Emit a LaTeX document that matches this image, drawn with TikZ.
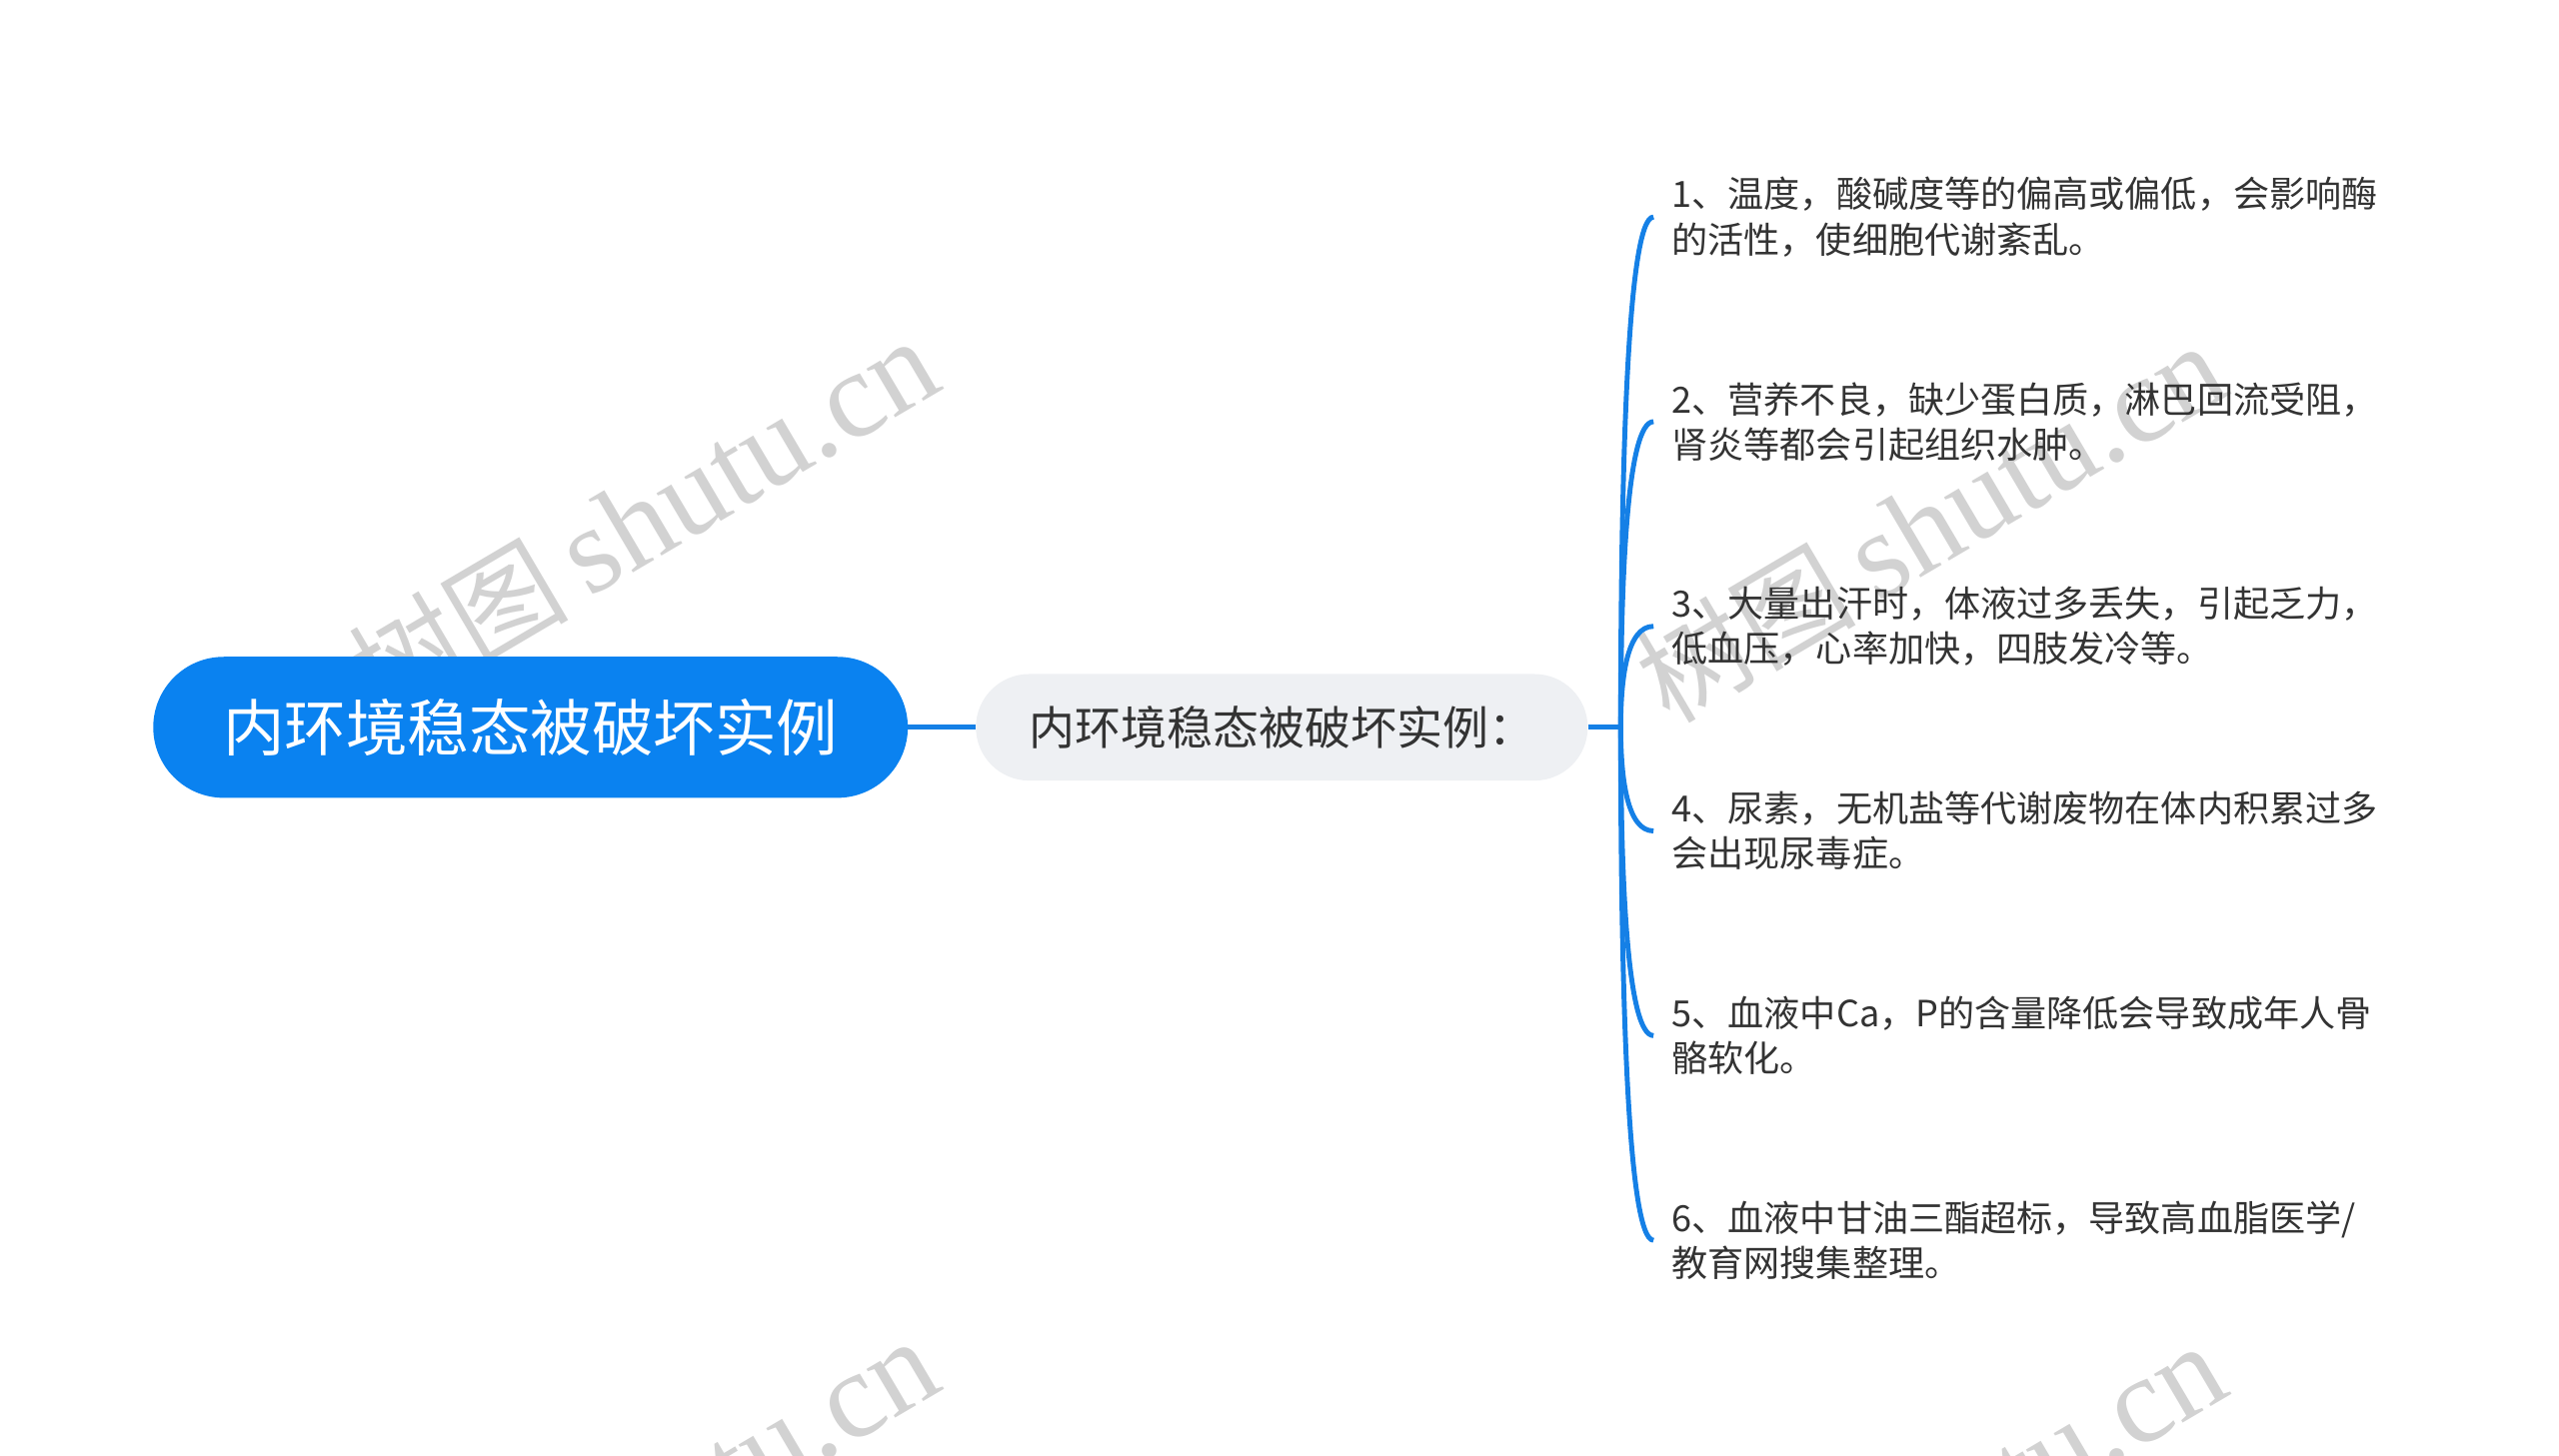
\documentclass[tikz,border=0pt]{standalone}
\usepackage{fontspec}
\setmainfont{Noto Sans CJK SC}
\newfontfamily\cjk{Noto Sans CJK SC}
\newfontfamily\wmserif{Liberation Serif}
\definecolor{mainblue}{HTML}{0A82F0}
\definecolor{linkblue}{HTML}{1580E6}
\definecolor{midgray}{HTML}{EEF0F3}
\definecolor{textdark}{HTML}{333333}
\definecolor{wmgray}{HTML}{D2D2D2}
\tikzset{
  rootbox/.style={fill=mainblue, text=white, rounded corners=43pt, minimum width=460pt, minimum height=86pt, inner sep=0pt, font=\cjk\fontsize{37.5pt}{44pt}\selectfont},
  midbox/.style={fill=midgray, text=textdark, rounded corners=32.5pt, minimum width=373pt, minimum height=65pt, inner sep=0pt, font=\cjk\fontsize{28pt}{32pt}\selectfont},
  leafbox/.style={anchor=west, text=textdark, align=left, inner xsep=11pt, inner ysep=0pt, font=\cjk\fontsize{22pt}{27.5pt}\selectfont},
  link/.style={draw=linkblue, line width=3pt},
  wmark/.style={text=wmgray, rotate=30.5, inner sep=0pt, font=\fontsize{75pt}{80pt}\selectfont}
}
\newcommand{\wmtext}{{\cjk\fontsize{67pt}{72pt}\selectfont 树图}\,{\wmserif shutu.cn}}
\begin{document}
\begin{tikzpicture}[x=1pt,y=-1pt]
\useasboundingbox (0,0) rectangle (1560,887.25);
\begin{scope}
\clip (0,0) rectangle (1560,887.25);
\node[wmark] (wm1) at (392,316) {\wmtext};
\node[wmark] (wm2) at (1177,319) {\wmtext};
\node[wmark] (wm3) at (392,926) {\wmtext};
\node[wmark] (wm4) at (1177,929) {\wmtext};
\end{scope}

\node[rootbox] (root) at (323.4,443.5) {内环境稳态被破坏实例};
\node[midbox] (mid) at (781.4,443.5) {内环境稳态被破坏实例：};
\coordinate (fork) at (988,443.5);

\node[leafbox] (l1) at (1008,132.3) {1、温度，酸碱度等的偏高或偏低，会影响酶\\的活性，使细胞代谢紊乱。};
\node[leafbox] (l2) at (1008,257.1) {2、营养不良，缺少蛋白质，淋巴回流受阻，\\肾炎等都会引起组织水肿。};
\node[leafbox] (l3) at (1008,381.9) {3、大量出汗时，体液过多丢失，引起乏力，\\低血压，心率加快，四肢发冷等。};
\node[leafbox] (l4) at (1008,506.7) {4、尿素，无机盐等代谢废物在体内积累过多\\会出现尿毒症。};
\node[leafbox] (l5) at (1008,631.5) {5、血液中Ca，P的含量降低会导致成年人骨\\骼软化。};
\node[leafbox] (l6) at (1008,756.3) {6、血液中甘油三酯超标，导致高血脂医学/\\教育网搜集整理。};

\draw[link] (root.east) -- (mid.west);
\draw[link] (mid.east) -- (fork);
\draw[link] (fork) .. controls (988,287.9) and (992,132.3) .. (l1.west);
\draw[link] (fork) .. controls (988,350.3) and (992,257.1) .. (l2.west);
\draw[link] (fork) .. controls (988,412.7) and (992,381.9) .. (l3.west);
\draw[link] (fork) .. controls (988,475.1) and (992,506.7) .. (l4.west);
\draw[link] (fork) .. controls (988,537.5) and (992,631.5) .. (l5.west);
\draw[link] (fork) .. controls (988,599.9) and (992,756.3) .. (l6.west);
\end{tikzpicture}
\end{document}
